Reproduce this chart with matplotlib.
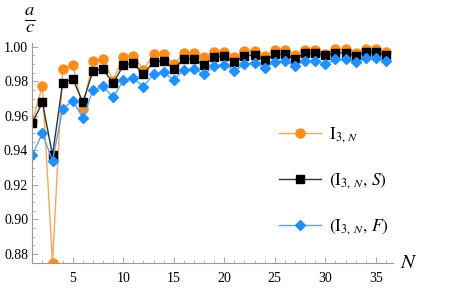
import numpy as np
import matplotlib.pyplot as plt
from matplotlib.ticker import MultipleLocator

plt.rcParams['font.family'] = ['Liberation Serif', 'DejaVu Serif']
plt.rcParams['mathtext.fontset'] = 'stix'

N = np.arange(1, 37)

# a/c for I_{3,N}
i3n = [0.957, 0.9772, 0.875, 0.9869, 0.9896, 0.964, 0.9917, 0.9929, 0.9803, 0.9942,
       0.9948, 0.9865, 0.9958, 0.9958, 0.9898, 0.9961, 0.9965, 0.9942, 0.9971, 0.9971,
       0.9938, 0.9977, 0.9977, 0.9946, 0.9981, 0.9983, 0.9952, 0.9983, 0.9983, 0.9958,
       0.9985, 0.9985, 0.9963, 0.9985, 0.9985, 0.9967]
# (I_{3,N}, S)
i3n_s = [0.956, 0.9678, 0.9372, 0.9788, 0.9815, 0.9678, 0.9859, 0.9871, 0.9788, 0.9892,
         0.9906, 0.984, 0.9913, 0.9919, 0.9873, 0.9929, 0.993, 0.9894, 0.9942, 0.9946,
         0.9909, 0.9948, 0.9952, 0.9921, 0.9956, 0.9956, 0.993, 0.9961, 0.9961, 0.995,
         0.9963, 0.9965, 0.9948, 0.9967, 0.9967, 0.995]
# (I_{3,N}, F)
i3n_f = [0.9375, 0.9498, 0.934, 0.964, 0.9687, 0.959, 0.9749, 0.977, 0.9707, 0.9805,
         0.9819, 0.9768, 0.9843, 0.9851, 0.9809, 0.9867, 0.9872, 0.984, 0.9888, 0.9896,
         0.9861, 0.9898, 0.9904, 0.9877, 0.9911, 0.9915, 0.989, 0.9919, 0.9919, 0.99,
         0.9927, 0.9927, 0.991, 0.9933, 0.9933, 0.9915]

labels = [r'$\mathrm{I}_{3,\,N}$', r'$(\mathrm{I}_{3,\,N},\,S)$', r'$(\mathrm{I}_{3,\,N},\,F)$']

fig = plt.figure(figsize=(4.63, 2.89), dpi=100)
ax = fig.add_axes([32.3/463, 1 - 263.3/289, (393 - 32.3)/463, (263.3 - 43.3)/289])

ax.plot(N, i3n, color='#FFA54F', lw=1, marker='o', ms=6.5,
        mfc='#FF8C1A', mec='#FF8C1A', label=labels[0])
ax.plot(N, i3n_s, color='#333333', lw=1, marker='s', ms=5.5,
        mfc='black', mec='black', label=labels[1])
ax.plot(N, i3n_f, color='#4DA6FF', lw=1, marker='D', ms=4.8,
        mfc='#1E90FF', mec='#1E90FF', label=labels[2])

ax.set_xlim(1, 36.7)
ax.set_ylim(0.8746, 1.002)
ax.spines['top'].set_visible(False)
ax.spines['right'].set_visible(False)
for s in ['left', 'bottom']:
    ax.spines[s].set_color('#999999')
    ax.spines[s].set_linewidth(0.8)

ax.xaxis.set_minor_locator(MultipleLocator(1))
ax.yaxis.set_minor_locator(MultipleLocator(0.005))
ax.set_xticks([5, 10, 15, 20, 25, 30, 35])
ax.set_yticks([0.88, 0.90, 0.92, 0.94, 0.96, 0.98, 1.00])
ax.yaxis.set_major_formatter(plt.FuncFormatter(lambda v, p: '%.2f' % v))
ax.tick_params(which='both', direction='in', color='#999999', labelsize=10)
ax.tick_params(which='major', length=4, width=0.6)
ax.tick_params(which='minor', length=2, width=0.5)
ax.tick_params(axis='x', pad=6)
ax.tick_params(axis='y', pad=3)

fig.text(30/463, 1 - 20/289, r'$\frac{a}{c}$', fontsize=19, ha='center', va='center')
fig.text(400/463, 1 - 263/289, r'$N$', fontsize=15, ha='left', va='center')

ax.legend(loc='upper left', bbox_to_anchor=(247/361, (263.3 - 125)/220), frameon=False,
          fontsize=12.5, handlelength=2.4, labelspacing=1.5, handletextpad=0.45,
          borderpad=0, borderaxespad=0)

fig.savefig('out.png', dpi=100)
